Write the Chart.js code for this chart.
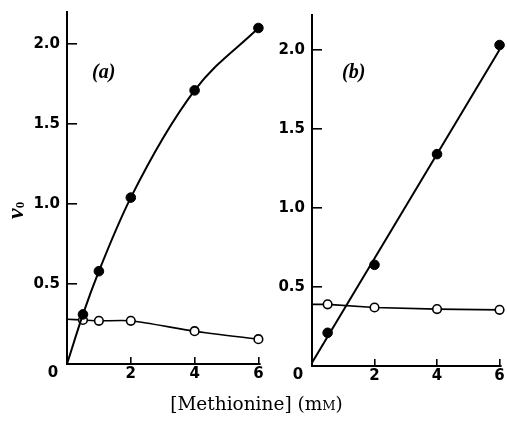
<!DOCTYPE html>
<html>
<head>
<meta charset="utf-8">
<script src="https://cdn.jsdelivr.net/npm/chart.js@4.4.0/dist/chart.umd.min.js"></script>
<style>
  html, body { margin: 0; padding: 0; background: #fff; }
  #wrap { position: relative; width: 507px; height: 421px; overflow: hidden; }
  #chartA { position: absolute; left: 0; top: 0; }
  #chartB { position: absolute; left: 262px; top: 0; }
  #xtitle {
    position: absolute; left: 3px; width: 507px; top: 394px;
    text-align: center; font-family: "DejaVu Serif", serif; font-size: 18.5px; line-height: 20px; color: #000;
  }
</style>
</head>
<body>
<div id="wrap">
  <canvas id="chartA" width="268" height="421"></canvas>
  <canvas id="chartB" width="245" height="421"></canvas>
  <div id="xtitle">[Methionine] (m<span style="font-size:13px">M</span>)</div>
</div>
<script>
// values (v0 against methionine, mM)
const xTicks = [0, 2, 4, 6];
const yTicks = [0.5, 1.0, 1.5, 2.0];

// panel (a)
const concA = [0.5, 1, 2, 4, 6];
const filledA = [0.31, 0.58, 1.04, 1.71, 2.10];
const openA = [0.275, 0.27, 0.27, 0.205, 0.155];
const openStartA = 0.28;

// panel (b)
const concB = [0.5, 2, 4, 6];
const filledB = [0.21, 0.64, 1.34, 2.03];
const openB = [0.39, 0.37, 0.36, 0.355];
const openStartB = 0.39;
const fitLineB = [0.02, 2.0]; // straight line at x = 0 and x = 6

const tickFont = { family: 'DejaVu Sans', weight: 'bold', size: 15 };

function pts(xs, ys) {
  return xs.map((x, i) => ({ x: x, y: ys[i] }));
}

const panelText = {
  id: 'panelText',
  afterDraw(chart, args, opts) {
    const { ctx, chartArea, scales } = chart;
    ctx.save();
    ctx.fillStyle = '#000';
    ctx.font = 'italic bold 20px "Liberation Serif"';
    ctx.textAlign = 'left';
    ctx.textBaseline = 'alphabetic';
    ctx.fillText(opts.letter, chartArea.left + opts.letterDx, 78);

    ctx.font = 'bold 15px "DejaVu Sans"';
    ctx.textAlign = 'center';
    ctx.textBaseline = 'top';
    ctx.fillText('0', scales.x.getPixelForValue(0) - 14, scales.x.top + 2);

    if (opts.yTitle) {
      ctx.translate(23, 219);
      ctx.rotate(-Math.PI / 2);
      ctx.textAlign = 'left';
      ctx.textBaseline = 'alphabetic';
      ctx.font = 'italic bold 24px "Liberation Serif"';
      ctx.fillText('v', 0, 0);
      const w = ctx.measureText('v').width;
      ctx.font = 'bold 13px "Liberation Serif"';
      ctx.fillText('0', w, 1);
    }
    ctx.restore();
  }
};

function makeScales(yMax, yWidth, xHeight) {
  return {
    x: {
      type: 'linear', min: 0, max: 6.05,
      afterBuildTicks: s => { s.ticks = xTicks.map(v => ({ value: v })); },
      afterFit: s => { s.height = xHeight; s.paddingLeft = 0; s.paddingRight = 0; },
      ticks: {
        callback: v => (v === 0 ? '' : String(v)),
        font: tickFont, color: '#000', padding: 8, maxRotation: 0
      },
      grid: { drawOnChartArea: false, tickLength: -7, color: '#000', lineWidth: 1.6 },
      border: { color: '#000', width: 2 }
    },
    y: {
      type: 'linear', min: 0, max: yMax,
      afterBuildTicks: s => { s.ticks = yTicks.map(v => ({ value: v })); },
      afterFit: s => { s.width = yWidth; s.paddingTop = 0; s.paddingBottom = 0; },
      ticks: {
        callback: v => v.toFixed(1),
        font: tickFont, color: '#000', padding: 17
      },
      grid: { drawOnChartArea: false, tickLength: -10, color: '#000', lineWidth: 1.6 },
      border: { color: '#000', width: 2 }
    }
  };
}

const filledStyle = {
  showLine: true, borderColor: '#000', borderWidth: 2,
  pointBackgroundColor: '#000', pointBorderColor: '#000', pointBorderWidth: 1,
  clip: 10
};
const openStyle = {
  showLine: true, borderColor: '#000', borderWidth: 1.6,
  pointBackgroundColor: '#fff', pointBorderColor: '#000', pointBorderWidth: 1.6,
  clip: 10
};

new Chart(document.getElementById('chartA'), {
  type: 'scatter',
  data: {
    datasets: [
      Object.assign({
        label: 'filled',
        data: [{ x: 0, y: 0 }].concat(pts(concA, filledA)),
        pointRadius: [0].concat(concA.map(() => 4.8)),
        cubicInterpolationMode: 'monotone'
      }, filledStyle),
      Object.assign({
        label: 'open',
        data: [{ x: 0, y: openStartA }].concat(pts(concA, openA)),
        pointRadius: [0].concat(concA.map(() => 4.3)),
        tension: 0.2
      }, openStyle)
    ]
  },
  options: {
    responsive: false,
    animation: false,
    layout: { padding: { left: 0, right: 8, top: 12, bottom: 0 } },
    plugins: {
      legend: { display: false },
      tooltip: { enabled: false },
      panelText: { letter: '(a)', letterDx: 25, yTitle: true }
    },
    scales: makeScales(2.2, 67, 57)
  },
  plugins: [panelText]
});

new Chart(document.getElementById('chartB'), {
  type: 'scatter',
  data: {
    datasets: [
      Object.assign({
        label: 'fit',
        data: pts([0, 6], fitLineB),
        pointRadius: 0
      }, filledStyle),
      Object.assign({
        label: 'filled',
        data: pts(concB, filledB),
        pointRadius: 4.8
      }, filledStyle, { showLine: false }),
      Object.assign({
        label: 'open',
        data: [{ x: 0, y: openStartB }].concat(pts(concB, openB)),
        pointRadius: [0].concat(concB.map(() => 4.3))
      }, openStyle)
    ]
  },
  options: {
    responsive: false,
    animation: false,
    layout: { padding: { left: 0, right: 3.4, top: 15, bottom: 0 } },
    plugins: {
      legend: { display: false },
      tooltip: { enabled: false },
      panelText: { letter: '(b)', letterDx: 30, yTitle: false }
    },
    scales: makeScales(2.22, 50, 55)
  },
  plugins: [panelText]
});
</script>
</body>
</html>
